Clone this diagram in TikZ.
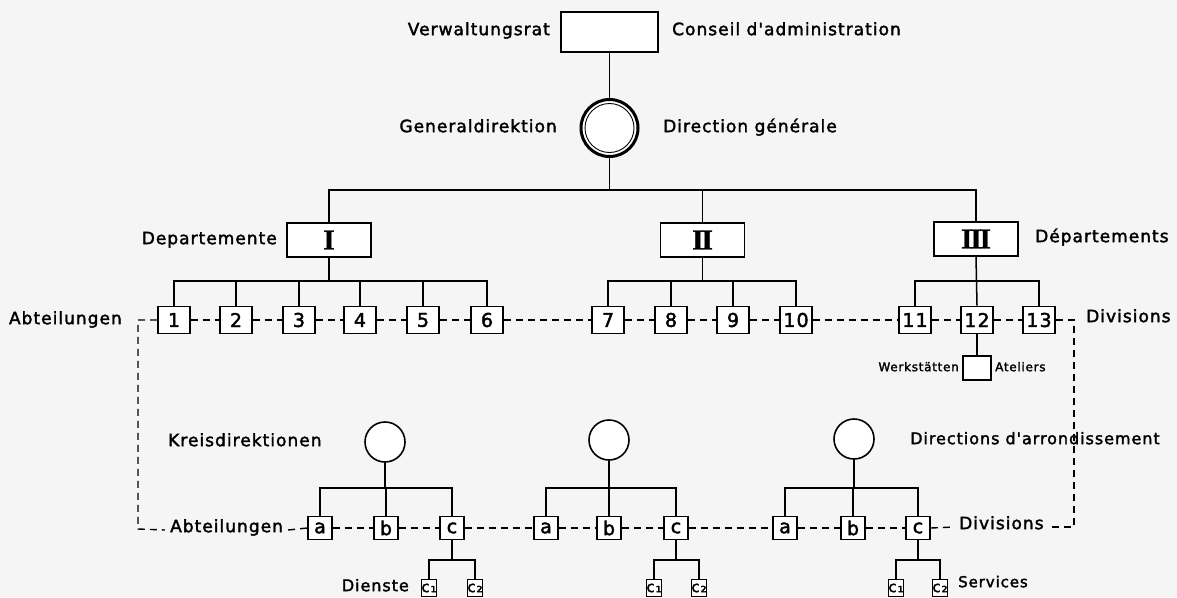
\documentclass[tikz,border=0pt]{standalone}
\usepackage{fontspec}
\newfontfamily\lett{DejaVu Sans}[LetterSpace=6, FakeBold=2]
\newfontfamily\romnum{Liberation Serif}[LetterSpace=-7, FakeBold=1.5]
\begin{document}
\begin{tikzpicture}[x=1pt,y=-1pt,
  lbl/.style={inner sep=0pt, font=\lett\fontsize{17}{17}\selectfont},
  sml/.style={inner sep=0pt, font=\lett\fontsize{12}{12}\selectfont},
  box/.style={draw, line width=1.6pt, inner sep=0pt, fill=white},
  topbox/.style={box, minimum width=97pt, minimum height=40pt},
  depbox/.style={box, minimum width=84pt, minimum height=34pt, font=\romnum\bfseries\fontsize{29}{29}\selectfont},
  divbox/.style={box, minimum width=32pt, minimum height=27pt, font=\lett\fontsize{19}{19}\selectfont},
  subbox/.style={box, minimum width=24pt, minimum height=23pt, font=\lett\fontsize{19}{19}\selectfont},
  tinybox/.style={box, line width=1.3pt, minimum width=15pt, minimum height=17pt, font=\lett\fontsize{15}{15}\selectfont},
  kreis/.style={circle, draw, line width=1.6pt, minimum size=40pt, inner sep=0pt, fill=white},
  conn/.style={line width=1.5pt},
  dsh/.style={line width=1.4pt, dash pattern=on 7pt off 5pt},
]
\useasboundingbox[fill=black!4] (0,0) rectangle (1177,597);

% top
\node[topbox] (vr) at (609.5,32) {};
\node[lbl, anchor=mid east] (vrde) at (550,33) {Verwaltungsrat};
\node[lbl, anchor=mid west] (vrfr) at (672,33) {Conseil d'administration};

\node[circle, draw, line width=3pt, minimum size=57pt, inner sep=0pt, fill=white] (gd) at (609.5,128) {};
\node[circle, draw, line width=0.9pt, minimum size=49pt, inner sep=0pt] (gdin) at (609.5,128) {};
\node[lbl, anchor=mid east] (gdde) at (557,130) {Generaldirektion};
\node[lbl, anchor=mid west] (gdfr) at (663,130) {Direction générale};
\draw[conn] (vr) -- (gd);

% departments
\node[depbox] (dI) at (329,240) {I};
\node[depbox] (dII) at (702.5,240) {II};
\node[depbox] (dIII) at (976,239) {III};
\node[lbl, anchor=mid east] (depde) at (277,242) {Departemente};
\node[lbl, anchor=mid west] (depfr) at (1035,240) {Départements};

\coordinate (bus) at (0,190);
\draw[conn] (gd.south) -- (gd.south |- bus);
\draw[conn] (dI.north) -- (dI.north |- bus) -- (dIII.north |- bus) -- (dIII.north);
\draw[conn] (dII.north) -- (dII.north |- bus);

% divisions
\foreach \n/\x in {1/174,2/236,3/299,4/360,5/423,6/487,7/608,8/671,9/733,10/796,11/915,12/977,13/1039}
  \node[divbox] (d\n) at (\x,320) {\n};

\coordinate (sub) at (0,281);
\draw[conn] (dI.south) -- (dI.south |- sub);
\draw[conn] (d1.north) -- (d1.north |- sub) -- (d6.north |- sub) -- (d6.north);
\foreach \n in {2,3,4,5} \draw[conn] (d\n.north) -- (d\n.north |- sub);
\draw[conn] (dII.south) -- (dII.south |- sub);
\draw[conn] (d7.north) -- (d7.north |- sub) -- (d10.north |- sub) -- (d10.north);
\foreach \n in {8,9} \draw[conn] (d\n.north) -- (d\n.north |- sub);
\draw[conn] (dIII.south) -- (d12.north);
\draw[conn] (d11.north) -- (d11.north |- sub) -- (d13.north |- sub) -- (d13.north);

\node[lbl, anchor=mid east] (abtA) at (122,322) {Abteilungen};
\node[lbl, anchor=mid west] (divA) at (1086,320) {Divisions};

% workshops
\node[box, minimum width=28pt, minimum height=24pt] (ws) at (977,368) {};
\draw[conn] (d12) -- (ws);
\node[sml, anchor=mid east] (wsde) at (959,369) {Werkstätten};
\node[sml, anchor=mid west] (wsfr) at (995,369) {Ateliers};

% district directions
\node[kreis] (k1) at (385,442) {};
\node[kreis] (k2) at (609,440) {};
\node[kreis] (k3) at (854,439) {};
\node[lbl, anchor=mid west] (kde) at (168,444) {Kreisdirektionen};
\node[lbl, anchor=mid west, font=\lett\fontsize{16}{16}\selectfont] (kfr) at (910,442) {Directions d'arrondissement};

\foreach \g/\xa/\xb/\xc in {1/320/386/452, 2/546/609/676, 3/785/853/918} {
  \node[subbox] (a\g) at (\xa,528) {a};
  \node[subbox] (b\g) at (\xb,528) {b};
  \node[subbox] (c\g) at (\xc,528) {c};
}
\coordinate (kb) at (0,488);
\foreach \g in {1,2,3} {
  \draw[conn] (k\g.south) -- (k\g.south |- kb);
  \draw[conn] (a\g.north) -- (a\g.north |- kb) -- (c\g.north |- kb) -- (c\g.north);
  \draw[conn] (b\g.north) -- (b\g.north |- kb);
}

% services
\coordinate (cb) at (0,560);
\foreach \g/\xa/\xb in {1/429/475, 2/654/699, 3/896/940} {
  \node[tinybox] (s\g a) at (\xa,588) {c₁};
  \node[tinybox] (s\g b) at (\xb,588) {c₂};
  \draw[conn] (c\g.south) -- (c\g.south |- cb);
  \draw[conn] (s\g a.north) -- (s\g a.north |- cb) -- (s\g b.north |- cb) -- (s\g b.north);
}
\node[lbl, anchor=mid east, font=\lett\fontsize{16}{16}\selectfont] (dien) at (409,589) {Dienste};
\node[lbl, anchor=mid west, font=\lett\fontsize{15}{15}\selectfont] (serv) at (958,585) {Services};

\node[lbl, anchor=mid west] (abtB) at (170,530) {Abteilungen};
\node[lbl, anchor=mid west] (divB) at (959,527) {Divisions};

% dashed links
\coordinate (tl) at (138,320);
\coordinate (bl) at (138,529);
\coordinate (tr) at (1074,320);
\coordinate (br) at (1074,527);
\draw[dsh] (d1) -- (d2) -- (d3) -- (d4) -- (d5) -- (d6) -- (d7) -- (d8) -- (d9) -- (d10) -- (d11) -- (d12) -- (d13);
\draw[dsh] (d1.west) -- (tl) -- (bl) -- ([xshift=-5pt]abtB.mid west);
\draw[dsh] (d13.east) -- (tr) -- (br) -- ([xshift=5pt]divB.mid east);
\draw[dsh] ([xshift=5pt]abtB.mid east) -- (a1.west);
\draw[dsh] (a1) -- (b1) -- (c1) -- (a2) -- (b2) -- (c2) -- (a3) -- (b3) -- (c3);
\draw[dsh] (c3.east) -- ([xshift=-5pt]divB.mid west);
\end{tikzpicture}
\end{document}
